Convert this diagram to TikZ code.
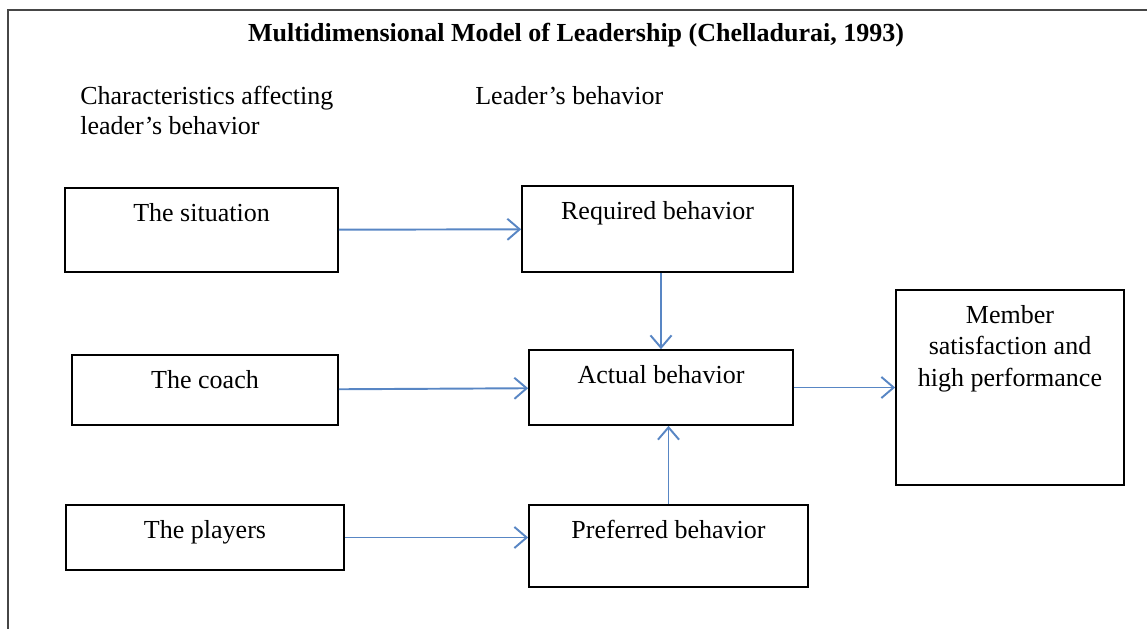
\documentclass[tikz,border=0pt]{standalone}
\usepackage{fontspec}
\setmainfont{Liberation Serif}
\usepackage{tikz}
\usetikzlibrary{positioning,calc,arrows.meta}

\definecolor{arrowblue}{RGB}{88,134,196}
\definecolor{framegray}{RGB}{70,70,70}

\begin{document}
\begin{tikzpicture}[x=0.02cm,y=-0.02cm,
	box/.style={draw, line width=1pt, inner sep=0pt},
	boxtext/.style={anchor=north, align=center, inner sep=0pt, text height=11pt, text depth=3.7pt, yshift=-0.29cm},
	memtext/.style={anchor=north, align=center, inner sep=0pt, yshift=-0.32cm},
	flow/.style={-{Straight Barb[length=7pt,width=12pt,line width=1.1pt]}, line width=1.1pt, arrowblue},
	every node/.style={font=\fontsize{14.8}{17.9}\selectfont}]
	\useasboundingbox (0,0) rectangle (1147,629);
	
	% frame, open at the bottom and right
	\draw[framegray, line width=1.2pt] (8,640) -- (8,10) -- (1160,10);
	
	\node[anchor=base, font=\fontsize{14.8}{17.9}\selectfont\bfseries] (title) at (576,41) {Multidimensional Model of Leadership (Chelladurai, 1993)};
	\node[anchor=north west, align=left, inner sep=0pt] (charhead) at (80,86) {Characteristics affecting\\[-1pt] leader’s behavior};
	\node[anchor=north west, inner sep=0pt, text height=11pt] (leadhead) at (475,84.5) {Leader’s behavior};
	
	\node[box, minimum width=5.46cm, minimum height=1.68cm, label={[boxtext]north:The situation}] (sit) at (201.5,230) {};
	\node[box, minimum width=5.32cm, minimum height=1.40cm, label={[boxtext]north:The coach}] (coach) at (205,390) {};
	\node[box, minimum width=5.56cm, minimum height=1.30cm, label={[boxtext]north:The players}] (play) at (205,537.5) {};
	
	\node[box, minimum width=5.42cm, minimum height=1.72cm, label={[boxtext]north:Required behavior}] (req) at (657.5,229) {};
	\node[box, minimum width=5.28cm, minimum height=1.50cm, label={[boxtext]north:Actual behavior}] (act) at (661,387.5) {};
	\node[box, minimum width=5.58cm, minimum height=1.64cm, label={[boxtext]north:Preferred behavior}] (pref) at (668.5,546) {};
	
	\node[box, minimum width=4.56cm, minimum height=3.90cm, label={[memtext]north:Member\\satisfaction and\\high performance}] (mem) at (1010,387.5) {};
	
	\draw[flow] (sit) -- (req);
	\draw[flow] (coach) -- (act);
	\draw[flow] (play.east) -- (play.east -| pref.west);
	\draw[flow] (act.north |- req.south) -- (act.north);
	\draw[flow] (pref.north) -- (pref.north |- act.south);
	\draw[flow] (act) -- (mem);
\end{tikzpicture}
\end{document}
